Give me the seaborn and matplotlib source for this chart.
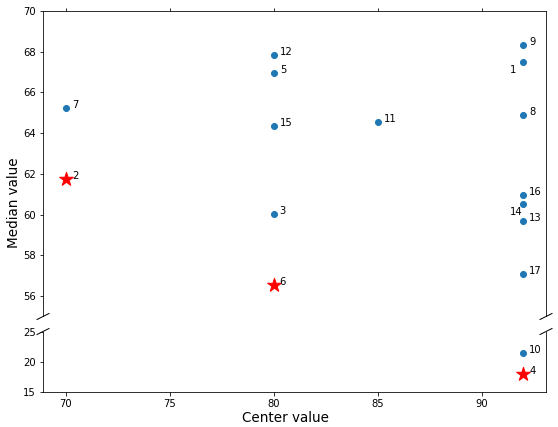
import numpy as np
import pandas as pd
import matplotlib
matplotlib.use("Agg")
import matplotlib.pyplot as plt
import seaborn as sns

labels = [1, 2, 3, 4, 5, 6, 7, 8, 9, 10, 11, 12, 13, 14, 15, 16, 17]
center = [92, 70, 80, 92, 80, 80, 70, 92, 92, 92, 85, 80, 92, 92, 80, 92, 92]
median = [67.5, 61.75, 60.03, 17.95, 66.95, 56.54, 65.24, 64.9, 68.33, 21.4,
          64.55, 67.84, 59.69, 60.52, 64.35, 60.96, 57.08]
highlight = [2, 4, 6]

df = pd.DataFrame({"label": labels, "center": center, "median": median})
df["star"] = df["label"].isin(highlight)

W, H = 558, 427
fig = plt.figure(figsize=(W / 72, H / 72), dpi=72)
left, right = 43 / W, 546 / W
ax_top = fig.add_axes([left, (H - 316.5) / H, right - left, 305.5 / H])
ax_bot = fig.add_axes([left, (H - 392) / H, right - left, 60.5 / H], sharex=ax_top)

for ax in (ax_top, ax_bot):
    sns.scatterplot(data=df[~df["star"]], x="center", y="median", ax=ax,
                    color="#1f77b4", s=36, edgecolor="#1f77b4", linewidth=1, legend=False)
    sns.scatterplot(data=df[df["star"]], x="center", y="median", ax=ax,
                    color="red", marker="*", s=210, edgecolor="red", linewidth=1, legend=False)
    ax.set_xlabel("")
    ax.set_ylabel("")

ax_top.set_ylim(55, 70)
ax_bot.set_ylim(15, 25)
ax_top.set_yticks(np.arange(56, 71, 2))
ax_bot.set_yticks([15, 20, 25])
ax_bot.set_xticks([70, 75, 80, 85, 90])

ax_top.spines["bottom"].set_visible(False)
ax_bot.spines["top"].set_visible(False)
ax_top.xaxis.tick_top()
ax_top.tick_params(labeltop=False)
ax_bot.xaxis.tick_bottom()

for ax in (ax_top, ax_bot):
    ax.tick_params(labelsize=10)

# labels
for _, r in df.iterrows():
    ax = ax_top if r["median"] > 40 else ax_bot
    if r["label"] in (1, 14):
        off = (-13, -11)
    else:
        off = (6, 0)
    ax.annotate(str(r["label"]), (r["center"], r["median"]), xytext=off,
                textcoords="offset points", fontsize=10, ha="left", va="baseline")

# break marks
kw = dict(color="k", clip_on=False, linewidth=1)
dx = 6 / 503
dyt = 3 / 305.5
dyb = 3 / 60.5
ax_top.plot((-dx, dx), (-dyt, dyt), transform=ax_top.transAxes, **kw)
ax_top.plot((1 - dx, 1 + dx), (-dyt, dyt), transform=ax_top.transAxes, **kw)
ax_bot.plot((-dx, dx), (1 - dyb, 1 + dyb), transform=ax_bot.transAxes, **kw)
ax_bot.plot((1 - dx, 1 + dx), (1 - dyb, 1 + dyb), transform=ax_bot.transAxes, **kw)

fig.text(286 / W, (H - 418) / H, "Center value", fontsize=13.5, ha="center", va="center")
fig.text(7 / W, (H - 203) / H, "Median value", rotation=90, fontsize=13.5,
         ha="left", va="center")

fig.savefig("out.png", dpi=72)
